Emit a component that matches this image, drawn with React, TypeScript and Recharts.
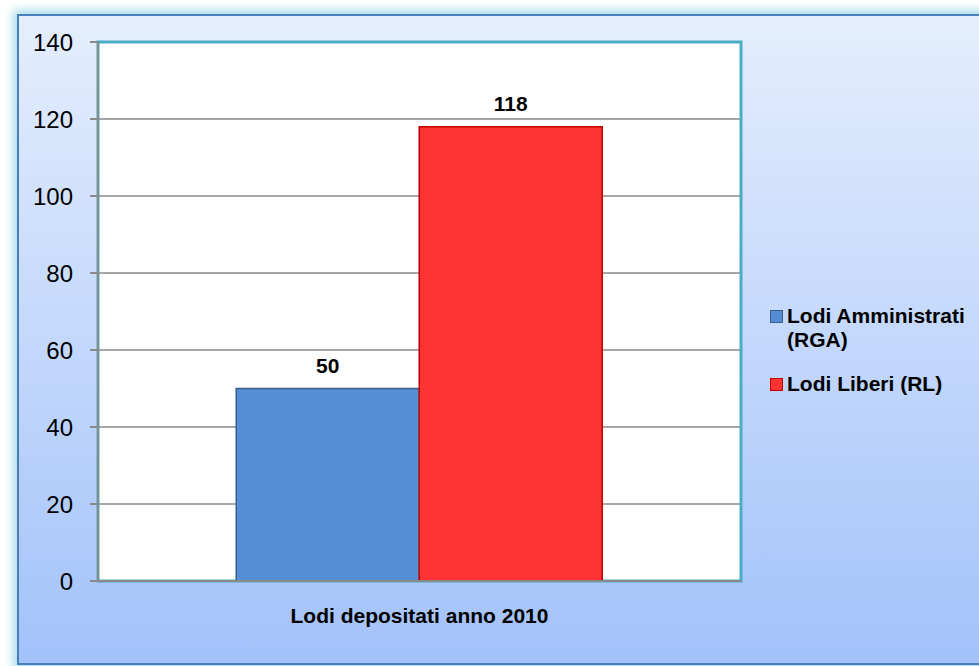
import {
  BarChart,
  Bar,
  XAxis,
  YAxis,
  CartesianGrid,
  Legend,
  LabelList,
  ReferenceArea,
} from 'recharts'

const categories = ['Lodi depositati anno 2010']
const amministrati = [50]
const liberi = [118]
const yTicks = [0, 20, 40, 60, 80, 100, 120, 140]

const seriesInfo = [
  { key: 'rga', name: 'Lodi Amministrati (RGA)', fill: '#558ED5', stroke: '#385D8A' },
  { key: 'rl', name: 'Lodi Liberi (RL)', fill: '#FF3333', stroke: '#C00000' },
]

const data = categories.map((name, i) => ({
  name,
  rga: amministrati[i],
  rl: liberi[i],
}))

const font = '"Liberation Sans", Arial, sans-serif'

const LegendBox = () => (
  <div style={{ fontFamily: font, fontWeight: 'bold', fontSize: 21, lineHeight: '24px', color: '#000' }}>
    {seriesInfo.map((s, i) => (
      <div key={s.key} style={{ display: 'flex', alignItems: 'flex-start', marginTop: i ? 20 : 0 }}>
        <span
          style={{
            width: 11,
            height: 11,
            marginTop: 6,
            marginRight: 4,
            background: s.fill,
            border: `1.5px solid ${s.stroke}`,
            flexShrink: 0,
          }}
        />
        <span style={{ width: 185 }}>{s.name}</span>
      </div>
    ))}
  </div>
)

export default function App() {
  return (
    <div style={{ position: 'absolute', left: 0, top: 0, width: 979, height: 666, overflow: 'hidden', background: '#fff' }}>
      <div
        style={{
          position: 'absolute',
          left: 17,
          top: 14,
          width: 990,
          height: 647,
          border: '2px solid #4A7EBB',
          background: 'linear-gradient(#E4EEFD, #A3C2FA)',
          boxShadow: '0 0 9px 4px #A7DCEA',
        }}
      />
      <div style={{ position: 'absolute', left: 0, top: 0 }}>
        <BarChart
          width={979}
          height={666}
          data={data}
          margin={{ top: 42, right: 38, left: 38, bottom: 35 }}
          barCategoryGap="21.5%"
          barGap={0}
        >
          <CartesianGrid xAxisId="main" vertical={false} stroke="#8A8A8A" strokeWidth={1.5} fill="#fff" />
          <XAxis
            xAxisId="edge"
            type="number"
            domain={[0, 1]}
            ticks={[0, 1]}
            tick={false}
            tickSize={7}
            tickLine={{ stroke: '#8A8A8A', strokeWidth: 2 }}
            axisLine={false}
            height={0}
          />
          <XAxis
            xAxisId="main"
            dataKey="name"
            height={50}
            tickLine={false}
            tickMargin={21}
            axisLine={{ stroke: '#8A8A8A', strokeWidth: 2 }}
            tick={{ fill: '#000', fontSize: 21, fontWeight: 'bold', fontFamily: font }}
          />
          <YAxis
            domain={[0, 140]}
            ticks={yTicks}
            width={60}
            tickSize={8}
            tickMargin={17}
            axisLine={{ stroke: '#8A8A8A', strokeWidth: 2 }}
            tickLine={{ stroke: '#8A8A8A', strokeWidth: 2 }}
            tick={{ fill: '#000', fontSize: 24, fontFamily: font }}
          />
          <ReferenceArea xAxisId="main" y1={0} y2={140} fill="none" stroke="#4BACC6" strokeWidth={3} />
          <Legend
            layout="vertical"
            align="right"
            verticalAlign="top"
            content={<LegendBox />}
            wrapperStyle={{ left: 770, top: 304, width: 200 }}
          />
          {seriesInfo.map((s) => (
            <Bar
              key={s.key}
              xAxisId="main"
              dataKey={s.key}
              name={s.name}
              fill={s.fill}
              stroke={s.stroke}
              strokeWidth={1.5}
              isAnimationActive={false}
            >
              <LabelList
                dataKey={s.key}
                position="top"
                offset={16}
                style={{ fill: '#000', fontSize: 21, fontWeight: 'bold', fontFamily: font }}
              />
            </Bar>
          ))}
        </BarChart>
      </div>
    </div>
  )
}
